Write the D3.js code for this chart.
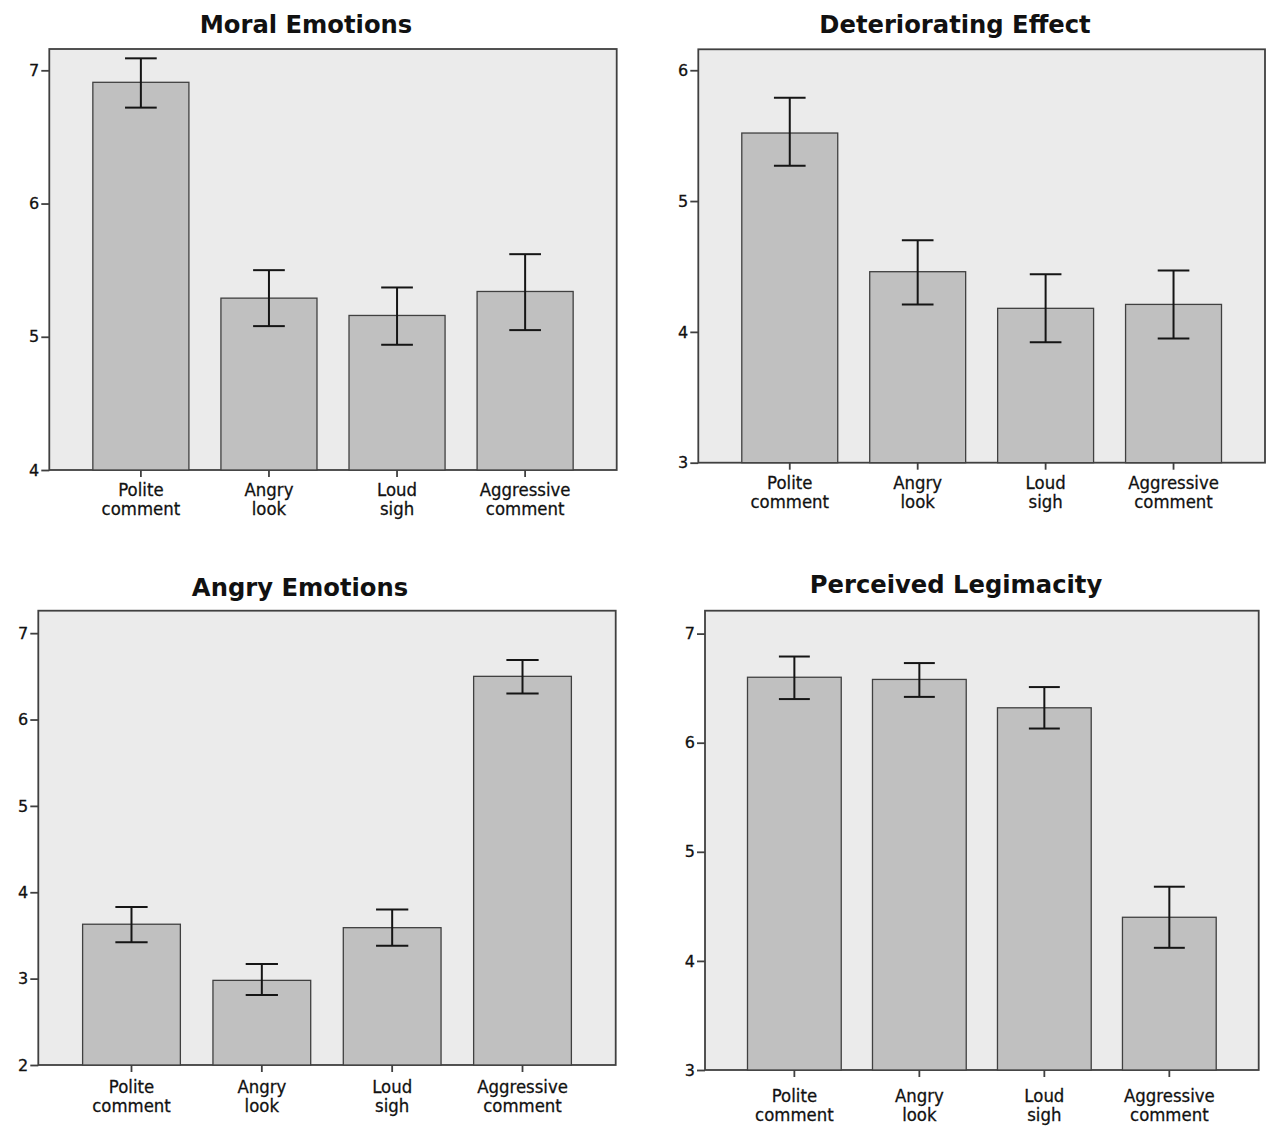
<!DOCTYPE html>
<html>
<head>
<meta charset="utf-8">
<script src="https://cdn.jsdelivr.net/npm/d3@7"></script>
<style>
  html, body { margin: 0; padding: 0; background: #fff; }
  svg { display: block; }
  text { font-family: "DejaVu Sans", "Noto Sans", sans-serif; fill: #111; }
</style>
</head>
<body>
<svg id="chart" width="1266" height="1129"></svg>
<script>
// ---- data ----
const categories = ["Polite comment", "Angry look", "Loud sigh", "Aggressive comment"];
const categoryLines = [["Polite", "comment"], ["Angry", "look"], ["Loud", "sigh"], ["Aggressive", "comment"]];

const titles = ["Moral Emotions", "Deteriorating Effect", "Angry Emotions", "Perceived Legimacity"];

const moralMeans  = [6.91, 5.29, 5.16, 5.34];
const moralLower  = [6.72, 5.08, 4.94, 5.05];
const moralUpper  = [7.09, 5.50, 5.37, 5.62];
const moralTicks  = [4, 5, 6, 7];

const deterMeans  = [5.52, 4.46, 4.18, 4.21];
const deterLower  = [5.27, 4.21, 3.92, 3.95];
const deterUpper  = [5.79, 4.70, 4.44, 4.47];
const deterTicks  = [3, 4, 5, 6];

const angryMeans  = [3.63, 2.98, 3.59, 6.50];
const angryLower  = [3.42, 2.81, 3.38, 6.30];
const angryUpper  = [3.83, 3.17, 3.80, 6.69];
const angryTicks  = [2, 3, 4, 5, 6, 7];

const legitMeans  = [6.60, 6.58, 6.32, 4.40];
const legitLower  = [6.40, 6.42, 6.13, 4.12];
const legitUpper  = [6.79, 6.73, 6.51, 4.68];
const legitTicks  = [3, 4, 5, 6, 7];

// axis extents (value at bottom / top of plot frame)
const yDomains = [[4, 7.16], [3, 6.16], [2, 7.26], [3, 7.21]];

// ---- layout ----
const panels = [
  { means: moralMeans, lower: moralLower, upper: moralUpper, ticks: moralTicks,
    x0: 49.3, x1: 616.7, y0: 49, y1: 470, tx: 306, ty: 33, lab: 26 },
  { means: deterMeans, lower: deterLower, upper: deterUpper, ticks: deterTicks,
    x0: 698.3, x1: 1265, y0: 49.3, y1: 462.7, tx: 955, ty: 33, lab: 26 },
  { means: angryMeans, lower: angryLower, upper: angryUpper, ticks: angryTicks,
    x0: 38.3, x1: 615.7, y0: 610.7, y1: 1065, tx: 300, ty: 596, lab: 28 },
  { means: legitMeans, lower: legitLower, upper: legitUpper, ticks: legitTicks,
    x0: 705, x1: 1258.7, y0: 610.7, y1: 1070, tx: 956, ty: 593, lab: 32 }
];

const svg = d3.select("#chart");

panels.forEach((p, i) => {
  const g = svg.append("g");
  const x = d3.scaleBand().domain(categories).range([p.x0, p.x1])
    .paddingInner(0.25).paddingOuter(0.34);
  const y = d3.scaleLinear().domain(yDomains[i]).range([p.y1, p.y0]);

  // plot background + frame
  g.append("rect")
    .attr("x", p.x0).attr("y", p.y0)
    .attr("width", p.x1 - p.x0).attr("height", p.y1 - p.y0)
    .attr("fill", "#ebebeb").attr("stroke", "#404040").attr("stroke-width", 1.8);

  // bars
  g.selectAll("rect.bar").data(categories).enter().append("rect")
    .attr("class", "bar")
    .attr("x", d => x(d))
    .attr("width", x.bandwidth())
    .attr("y", (d, j) => y(p.means[j]))
    .attr("height", (d, j) => y(yDomains[i][0]) - y(p.means[j]))
    .attr("fill", "#c0c0c0").attr("stroke", "#404040").attr("stroke-width", 1.3);

  // error bars
  const cap = x.bandwidth() * 0.33;
  const eb = g.selectAll("g.eb").data(categories).enter().append("g").attr("class", "eb");
  eb.append("line")
    .attr("x1", d => x(d) + x.bandwidth() / 2).attr("x2", d => x(d) + x.bandwidth() / 2)
    .attr("y1", (d, j) => y(p.lower[j])).attr("y2", (d, j) => y(p.upper[j]))
    .attr("stroke", "#151515").attr("stroke-width", 2);
  eb.append("line")
    .attr("x1", d => x(d) + x.bandwidth() / 2 - cap / 2).attr("x2", d => x(d) + x.bandwidth() / 2 + cap / 2)
    .attr("y1", (d, j) => y(p.upper[j])).attr("y2", (d, j) => y(p.upper[j]))
    .attr("stroke", "#151515").attr("stroke-width", 2);
  eb.append("line")
    .attr("x1", d => x(d) + x.bandwidth() / 2 - cap / 2).attr("x2", d => x(d) + x.bandwidth() / 2 + cap / 2)
    .attr("y1", (d, j) => y(p.lower[j])).attr("y2", (d, j) => y(p.lower[j]))
    .attr("stroke", "#151515").attr("stroke-width", 2);

  // y axis
  const ya = g.append("g").attr("transform", `translate(${p.x0},0)`)
    .call(d3.axisLeft(y).tickValues(p.ticks).tickFormat(d3.format("d")).tickSize(8).tickPadding(2));
  ya.select(".domain").remove();
  ya.selectAll(".tick line").attr("stroke", "#404040").attr("stroke-width", 1.8);
  ya.selectAll(".tick text").attr("font-size", 16).attr("fill", "#111")
    .attr("font-family", "DejaVu Sans")
    .attr("stroke", "#111").attr("stroke-width", 0.3);

  // x axis
  const xa = g.append("g").attr("transform", `translate(0,${p.y1})`)
    .call(d3.axisBottom(x).tickSize(7).tickFormat(""));
  xa.select(".domain").remove();
  xa.selectAll(".tick line").attr("stroke", "#404040").attr("stroke-width", 1.8);

  // multi-line category labels
  const lab = g.selectAll("text.cat").data(categories).enter().append("text")
    .attr("class", "cat")
    .attr("text-anchor", "middle")
    .attr("font-size", 18)
    .attr("stroke", "#111").attr("stroke-width", 0.3)
    .attr("transform", d => `translate(${x(d) + x.bandwidth() / 2},${p.y1 + p.lab}) scale(0.92,1)`);
  lab.selectAll("tspan").data((d, j) => categoryLines[j]).enter().append("tspan")
    .attr("x", 0).attr("dy", (d, k) => k === 0 ? 0 : 19)
    .text(d => d);

  // title
  g.append("text")
    .attr("x", p.tx).attr("y", p.ty)
    .attr("text-anchor", "middle")
    .attr("font-size", 24.5).attr("font-weight", "bold")
    .attr("transform", `translate(${p.tx},0) scale(0.99,1) translate(${-p.tx},0)`)
    .text(titles[i]);
});
</script>
</body>
</html>
